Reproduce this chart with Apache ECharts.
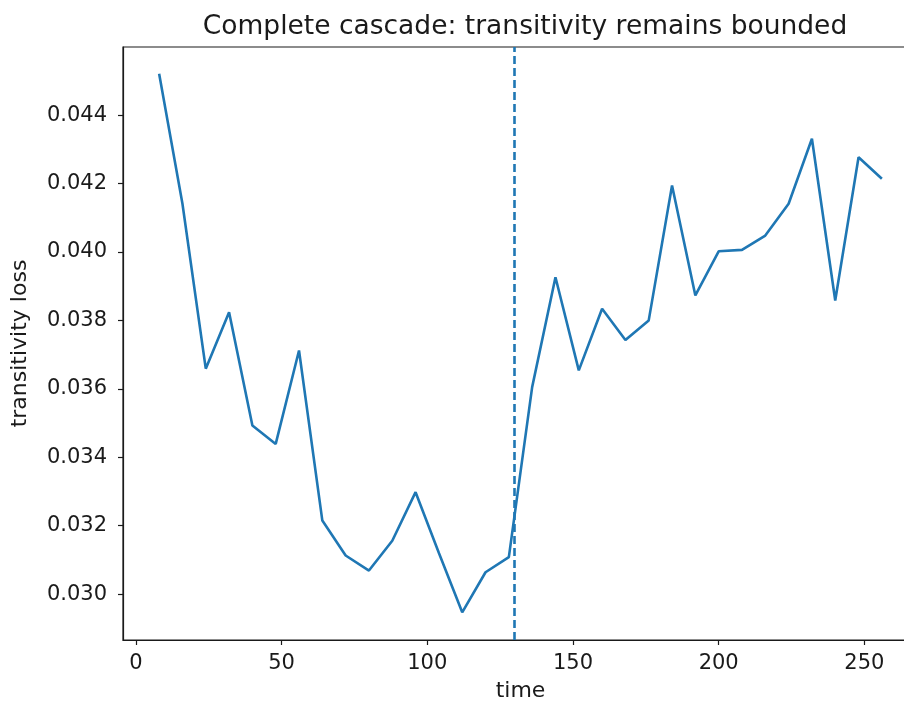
<!DOCTYPE html>
<html>
<head>
<meta charset="utf-8">
<script src="https://cdn.jsdelivr.net/npm/echarts@6/dist/echarts.min.js"></script>
<style>
  html, body { margin: 0; padding: 0; background: #fff; }
  #chart { width: 904px; height: 706px; }
</style>
</head>
<body>
<div id="chart"></div>
<script>
// time steps (every 8) and the loss
const times = [8, 16, 24, 32, 40, 48, 56, 64, 72, 80, 88, 96, 104, 112, 120, 128,
  136, 144, 152, 160, 168, 176, 184, 192, 200, 208, 216, 224, 232, 240, 248, 256];
const loss = [0.04521, 0.04141, 0.03659, 0.03824, 0.03493, 0.03439, 0.03712, 0.03215,
  0.03113, 0.03069, 0.03156, 0.03298, 0.03120, 0.02947, 0.03064, 0.03108,
  0.03605, 0.03926, 0.03654, 0.03834, 0.03743, 0.03800, 0.04194, 0.03873,
  0.04002, 0.04006, 0.04048, 0.04141, 0.04331, 0.03858, 0.04277, 0.04214];
const cascadeTime = 130;
const xTicks = [0, 50, 100, 150, 200, 250];
const yTicks = [0.030, 0.032, 0.034, 0.036, 0.038, 0.040, 0.042, 0.044];

const blue = '#1f77b4';
const ink = '#1a1a1a';
const font = 'DejaVu Sans';

const chart = echarts.init(document.getElementById('chart'));

const option = {
  animation: false,
  title: {
    text: 'Complete cascade: transitivity remains bounded',
    left: 520,
    top: 9,
    textAlign: 'center',
    textStyle: { fontFamily: font, fontSize: 26.5, fontWeight: 'normal', color: ink }
  },
  grid: {
    left: 123, top: 47, width: 795, height: 593,
    outerBoundsMode: 'none',
    show: true, borderColor: ink, borderWidth: 1.2, backgroundColor: 'transparent'
  },
  xAxis: {
    type: 'value',
    min: -4.4,
    max: 268.4,
    name: 'time',
    nameLocation: 'middle',
    nameGap: 40,
    nameTextStyle: { fontFamily: font, fontSize: 22, color: ink },
    axisLine: { lineStyle: { color: ink, width: 1.2 } },
    axisTick: { customValues: xTicks, length: 5, lineStyle: { color: ink, width: 1.2 } },
    axisLabel: { customValues: xTicks, fontFamily: font, fontSize: 21, color: ink, margin: 13 },
    splitLine: { show: false }
  },
  yAxis: {
    type: 'value',
    min: 0.02866,
    max: 0.04599,
    name: 'transitivity loss',
    nameLocation: 'middle',
    nameGap: 92,
    nameTextStyle: { fontFamily: font, fontSize: 22, color: ink },
    axisLine: { show: true, onZero: false, lineStyle: { color: ink, width: 1.2 } },
    axisTick: { show: true, customValues: yTicks, length: 5, lineStyle: { color: ink, width: 1.2 } },
    axisLabel: {
      customValues: yTicks, fontFamily: font, fontSize: 21, color: ink, margin: 16,
      formatter: v => v.toFixed(3)
    },
    splitLine: { show: false }
  },
  series: [
    {
      type: 'line',
      data: times.map((t, i) => [t, loss[i]]),
      symbol: 'none',
      lineStyle: { color: blue, width: 2.6 },
      markLine: {
        silent: true,
        symbol: 'none',
        label: { show: false },
        lineStyle: { color: blue, width: 2.6, type: [8, 4] },
        data: [{ xAxis: cascadeTime }]
      }
    }
  ]
};

chart.setOption(option);
</script>
</body>
</html>
